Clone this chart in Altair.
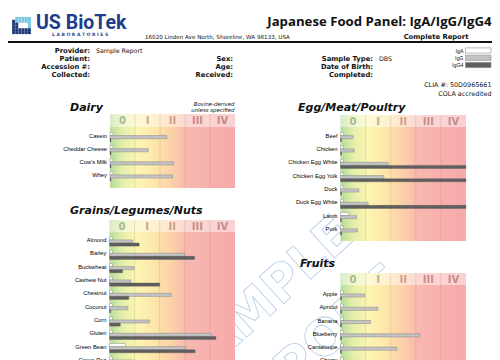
import altair as alt
import pandas as pd

OFF = 8  # page margin

def P(v):
    return v - OFF

# ---------------- data ----------------
series = ["IgA", "IgG", "IgG4"]

dairy_foods = ["Casein", "Cheddar Cheese", "Cow's Milk", "Whey"]
dairy_iga = [0.12, 0.12, 0.12, 0.12]
dairy_igg = [2.28, 1.53, 2.55, 2.50]
dairy_igg4 = [0.04, 0.04, 0.04, 0.04]

egg_foods = ["Beef", "Chicken", "Chicken Egg White", "Chicken Egg Yolk", "Duck",
             "Duck Egg White", "Lamb", "Pork"]
egg_iga = [0.12, 0.12, 0.12, 0.12, 0.12, 0.12, 0.33, 0.12]
egg_igg = [0.50, 0.54, 1.90, 1.73, 0.73, 1.10, 0.64, 0.68]
egg_igg4 = [0.04, 0.04, 5.0, 5.0, 0.04, 5.0, 0.04, 0.04]

grain_foods = ["Almond", "Barley", "Buckwheat", "Cashew Nut", "Chestnut", "Coconut",
               "Corn", "Gluten", "Green Bean", "Green Pea"]
grain_iga = [0.12, 0.12, 0.12, 0.12, 0.12, 0.12, 0.12, 0.12, 0.64, 0.12]
grain_igg = [0.92, 2.99, 0.98, 0.85, 2.46, 0.73, 1.60, 4.05, 3.03, 1.00]
grain_igg4 = [1.18, 3.39, 0.52, 2.00, 0.77, 0.05, 0.43, 4.24, 3.41, 0.30]

fruit_foods = ["Apple", "Apricot", "Banana", "Blueberry", "Cantaloupe", "Cherry"]
fruit_iga = [0.12, 0.12, 0.12, 0.12, 0.12, 0.12]
fruit_igg = [0.96, 1.49, 1.20, 3.16, 2.25, 1.00]
fruit_igg4 = [0.04, 0.04, 0.04, 0.04, 0.04, 0.04]

class_labels = ["0", "I", "II", "III", "IV"]
class_centers = [0.5, 1.5, 2.5, 3.5, 4.5]
class_bounds = [1, 2, 3, 4]
class_label_colors = ["#a3bb8e", "#b9b08c", "#cf9f8a", "#c98b8c", "#c48a8c"]

logo_cells_teal = [(1, 0), (2, 0), (3, 0), (4, 0), (5, 0),
                   (1, 1), (2, 1), (3, 1), (4, 1), (5, 1),
                   (5, 2), (5, 3)]
logo_cells_navy = [(0, 1), (0, 2), (1, 2), (0, 3), (1, 3),
                   (0, 4), (1, 4), (2, 4), (3, 4), (4, 4), (5, 4),
                   (0, 5), (1, 5), (2, 5), (3, 5), (4, 5), (5, 5)]

SERIES_STYLE = {
    "IgA": dict(fill="#ffffff", stroke="#8c8c8c", strokeWidth=0.5),
    "IgG": dict(fill="#c4c4c4", stroke="#858585", strokeWidth=0.5),
    "IgG4": dict(fill="#5f5f5f", stroke="#4a4a4a", strokeWidth=0.3),
}

layers = []

def txt(s, x, y, size=6.5, weight="normal", align="left", color="#111",
        font="DejaVu Sans", style="normal", angle=0, **kw):
    m = alt.Chart(alt.Data(values=[{}])).mark_text(
        text=s, fontSize=size, fontWeight=weight, align=align, baseline="middle",
        color=color, font=font, fontStyle=style, angle=angle, **kw)
    return m.encode(x=alt.value(P(x)), y=alt.value(P(y)))

# ---------------- watermark (behind panels) ----------------
layers.append(txt("SAMPLE", 262, 303, size=50, weight="bold", align="center",
                  font="DejaVu Sans", angle=318, fill="transparent",
                  stroke="#b3cde8", strokeWidth=0.8))
layers.append(txt("REPORT", 312, 352, size=50, weight="bold", align="center",
                  font="DejaVu Sans", angle=318, fill="transparent",
                  stroke="#b3cde8", strokeWidth=0.8))

# ---------------- header ----------------
def logo_layer(cells, color):
    df = pd.DataFrame({"c": [c for c, r in cells], "r": [r for c, r in cells]})
    return alt.Chart(df).mark_square(size=9, color=color, opacity=1).encode(
        x=alt.X("c:O", scale=alt.Scale(domain=list(range(6)), range=[P(12), P(31)]), axis=None),
        y=alt.Y("r:O", scale=alt.Scale(domain=list(range(6)), range=[P(17), P(34)]), axis=None),
    )
layers.append(logo_layer(logo_cells_teal, "#79c8e3"))
layers.append(logo_layer(logo_cells_navy, "#233a7a"))

layers.append(txt("US BioTek", 36, 22.5, size=19.5, weight="bold", color="#1f3d8c", font="Roboto"))
layers.append(txt("L A B O R A T O R I E S", 52, 35, size=4.5, weight="bold", color="#2b4a93", font="DejaVu Sans"))
layers.append(txt("16020 Linden Ave North, Shoreline, WA 98133, USA", 145, 37, size=5.6))
layers.append(txt("Japanese Food Panel: IgA/IgG/IgG4", 491.5, 21.5, size=13.2, weight="bold",
                  align="right", font="Open Sans"))
layers.append(txt("Complete Report", 436, 36.5, size=6.8, weight="bold", align="center"))
layers.append(alt.Chart(alt.Data(values=[{}])).mark_rule(color="#111", strokeWidth=2).encode(
    x=alt.value(P(3)), x2=alt.value(P(499)), y=alt.value(P(42))))

info_left = ["Provider:", "Patient:", "Accession #:", "Collected:"]
info_mid = ["Sex:", "Age:", "Received:"]
info_right = ["Sample Type:", "Date of Birth:", "Completed:"]
rows_y = [50.5, 59, 67, 75]
for lab, yy in zip(info_left, rows_y):
    layers.append(txt(lab, 90, yy, size=6.8, weight="bold", align="right"))
layers.append(txt("Sample Report", 96, 50.5, size=6.3))
for lab, yy in zip(info_mid, rows_y[1:]):
    layers.append(txt(lab, 233, yy, size=6.8, weight="bold", align="right"))
for lab, yy in zip(info_right, rows_y[1:]):
    layers.append(txt(lab, 373, yy, size=6.8, weight="bold", align="right"))
layers.append(txt("DBS", 379, 59, size=6.3))

# legend
leg_y = [50.5, 57.8, 65]
for s, yy in zip(series, leg_y):
    layers.append(txt(s, 463.5, yy, size=5.3, align="right", font="Liberation Sans"))
    st = SERIES_STYLE[s]
    layers.append(alt.Chart(alt.Data(values=[{}])).mark_rect(
        fill=st["fill"], stroke="#8a8a8a", strokeWidth=0.6).encode(
        x=alt.value(P(465.5)), x2=alt.value(P(491)),
        y=alt.value(P(yy - 2.6)), y2=alt.value(P(yy + 2.6))))

layers.append(txt("CLIA #: 50D0965661", 491.5, 85, size=6.4, align="right"))
layers.append(txt("COLA accredited", 491.5, 94, size=6.4, align="right"))

# ---------------- panels ----------------
GRAD = alt.LinearGradient(
    gradient="linear", x1=0, x2=1, y1=0, y2=0,
    stops=[
        alt.GradientStop(offset=0.0, color="#b5dc9b"),
        alt.GradientStop(offset=0.10, color="#e3efaa"),
        alt.GradientStop(offset=0.22, color="#fdf5b2"),
        alt.GradientStop(offset=0.36, color="#fde6aa"),
        alt.GradientStop(offset=0.48, color="#fcd3a8"),
        alt.GradientStop(offset=0.62, color="#f8b7b0"),
        alt.GradientStop(offset=1.0, color="#f6aaab"),
    ])

def panel(title, title_xy, foods, iga, igg, igg4, x0, x1, ht, hb, r0, step, bottom):
    n = len(foods)
    df = pd.DataFrame({"food": foods, "IgA": iga, "IgG": igg, "IgG4": igg4})
    xs = alt.Scale(domain=[0, 5], range=[P(x0), P(x1)], nice=False, zero=False)
    out = []
    one = alt.Data(values=[{}])
    out.append(alt.Chart(one).mark_rect(fill=GRAD).encode(
        x=alt.XDatum(0, scale=xs, axis=None), x2=alt.datum(5),
        y=alt.value(P(ht)), y2=alt.value(P(bottom))))
    out.append(alt.Chart(one).mark_rect(fill="#ffffff", opacity=0.45).encode(
        x=alt.XDatum(0, scale=xs, axis=None), x2=alt.datum(5),
        y=alt.value(P(ht)), y2=alt.value(P(hb))))
    out.append(alt.Chart(pd.DataFrame({"v": class_bounds})).mark_rule(
        color="#b08070", opacity=0.3, strokeWidth=0.8).encode(
        x=alt.X("v:Q", scale=xs, axis=None),
        y=alt.value(P(ht)), y2=alt.value(P(bottom))))
    out.append(alt.Chart(pd.DataFrame({"c": class_centers, "lab": class_labels})).mark_text(
        fontSize=10, fontWeight="bold", font="DejaVu Sans", baseline="middle").encode(
        x=alt.X("c:Q", scale=xs, axis=None),
        y=alt.value(P((ht + hb) / 2 + 0.5)),
        text="lab:N",
        color=alt.Color("lab:N", scale=alt.Scale(domain=class_labels, range=class_label_colors),
                        legend=None)))
    r1 = r0 + n * step
    ys = alt.Scale(domain=foods, range=[P(r0), P(r1)], paddingInner=0.3, paddingOuter=0.15)
    out.append(alt.Chart(df).mark_text(fontSize=5.8, font="Liberation Sans", align="right",
                                        baseline="middle", color="#000000", dx=-3, dy=-1.5).encode(
        x=alt.XDatum(0, scale=xs, axis=None),
        y=alt.Y("food:N", scale=ys, axis=None, sort=foods),
        text="food:N"))
    bw = 3.1
    p_in = 1 - bw / step
    for k, s in enumerate(series):
        sh = (k - 1) * bw
        ysk = alt.Scale(domain=foods, range=[P(r0 + sh), P(r1 + sh)],
                        paddingInner=p_in, paddingOuter=p_in / 2)
        st = SERIES_STYLE[s]
        out.append(alt.Chart(df).mark_bar(**st).encode(
            x=alt.X(f"{s}:Q", scale=xs, axis=None),
            y=alt.Y("food:N", scale=ysk, axis=None, sort=foods)))
    out.append(txt(title, title_xy[0], title_xy[1], size=11, weight="bold",
                   style="italic", font="DejaVu Sans"))
    return out

layers += panel("Dairy", (70, 107.5), dairy_foods, dairy_iga, dairy_igg, dairy_igg4,
                110, 235, 114, 127, 130.6, 13.1, 188)
layers.append(txt("Bovine-derived", 234.5, 104, size=5.4, style="italic", align="right"))
layers.append(txt("unless specified", 234.5, 110, size=5.4, style="italic", align="right"))
layers += panel("Egg/Meat/Poultry", (298, 107.5), egg_foods, egg_iga, egg_igg, egg_igg4,
                340.5, 466, 115, 127, 130.5, 13.33, 241)
layers += panel("Grains/Legumes/Nuts", (70, 211), grain_foods, grain_iga, grain_igg, grain_igg4,
                109.5, 235, 220, 232, 234.8, 13.34, 372)
layers += panel("Fruits", (300, 264), fruit_foods, fruit_iga, fruit_igg, fruit_igg4,
                340.5, 466, 273, 285, 288.8, 13.3, 372)

chart = alt.layer(*layers).resolve_scale(
    x="independent", y="independent", color="independent"
).properties(
    width=484, height=352, padding=0, autosize=alt.AutoSizeParams(type="none")
).configure_view(strokeWidth=0)

chart.save("out.html", embed_options={"renderer": "svg", "actions": False})
